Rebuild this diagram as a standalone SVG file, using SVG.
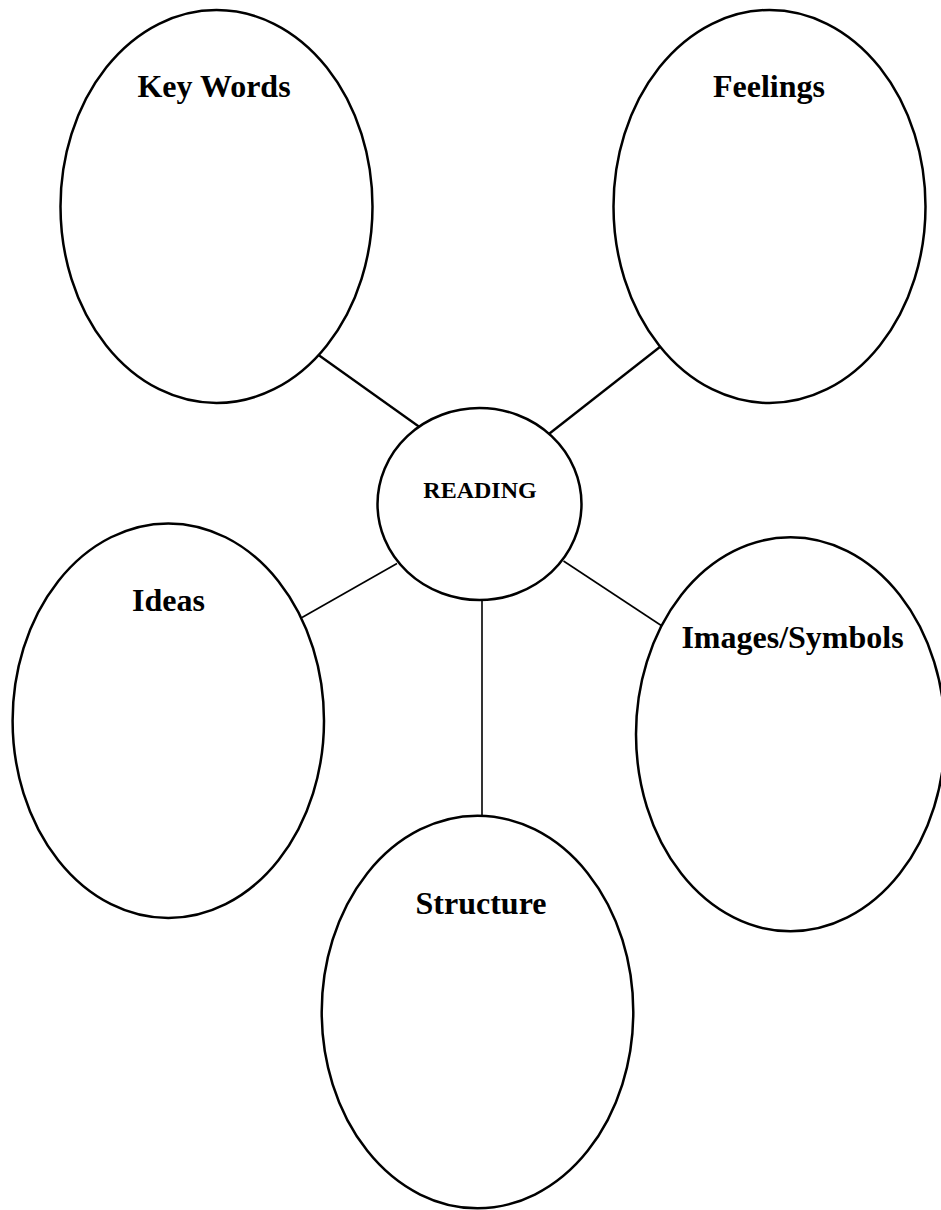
<svg xmlns="http://www.w3.org/2000/svg" width="941" height="1210" viewBox="0 0 941 1210">
  <style>
    .node { fill: #ffffff; stroke: #000000; stroke-width: 2.5; }
    .label { font-family: "Liberation Serif", "Times New Roman", serif; font-weight: bold; font-size: 32px; fill: #000000; text-anchor: middle; }
    .small { font-size: 24px; }
    .conn { stroke: #000000; fill: none; }
    .thick { stroke-width: 2.3; }
    .thin { stroke-width: 1.6; }
  </style>
  <rect x="0" y="0" width="941" height="1210" fill="#ffffff"/>
  <g id="connectors">
    <line class="conn thick" x1="318.5" y1="355" x2="419.5" y2="427"/>
    <line class="conn thick" x1="660.5" y1="346.5" x2="549.5" y2="433.5"/>
    <line class="conn thin" x1="397" y1="563.5" x2="302" y2="617.5"/>
    <line class="conn thin" x1="563.5" y1="561" x2="662" y2="626"/>
    <line class="conn thin" x1="482" y1="600" x2="482" y2="815.5"/>
  </g>
  <g id="node-keywords">
    <ellipse class="node" cx="216.5" cy="206.5" rx="156" ry="196.5"/>
    <text class="label" x="214" y="97">Key Words</text>
  </g>
  <g id="node-feelings">
    <ellipse class="node" cx="769.5" cy="206.5" rx="156" ry="196.5"/>
    <text class="label" x="769" y="97">Feelings</text>
  </g>
  <g id="node-reading">
    <ellipse class="node" cx="479.5" cy="504" rx="102" ry="96"/>
    <text class="label small" x="480" y="498">READING</text>
  </g>
  <g id="node-ideas">
    <ellipse class="node" cx="168.3" cy="720.7" rx="155.7" ry="197.3"/>
    <text class="label" x="168.5" y="611">Ideas</text>
  </g>
  <g id="node-images">
    <ellipse class="node" cx="790.5" cy="734.3" rx="154.5" ry="197"/>
    <text class="label" x="792.5" y="648">Images/Symbols</text>
  </g>
  <g id="node-structure">
    <ellipse class="node" cx="477.5" cy="1012" rx="155.8" ry="196.3"/>
    <text class="label" x="481" y="914">Structure</text>
  </g>
</svg>
